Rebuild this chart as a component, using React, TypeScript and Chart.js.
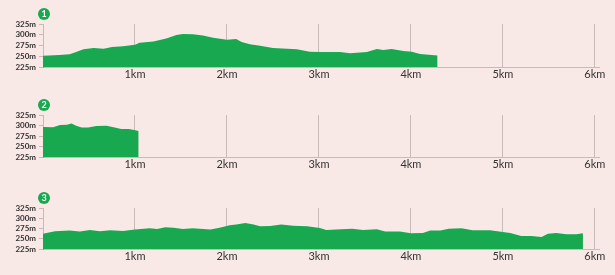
import React, { useEffect, useRef } from "react";
import { Chart, registerables } from "chart.js";

Chart.register(...registerables);

const BG = "#f9e9e6";
const GREEN = "#18a84f";

const dist1 = [0, 0.18, 0.29, 0.36, 0.44, 0.55, 0.66, 0.75, 0.87, 1.0, 1.05, 1.2, 1.34, 1.45, 1.52, 1.63, 1.74, 1.85, 2.0, 2.1, 2.16, 2.25, 2.36, 2.5, 2.76, 2.9, 3.01, 3.23, 3.34, 3.52, 3.63, 3.7, 3.79, 3.92, 4.01, 4.1, 4.29];
const elev1 = [251, 253, 254.5, 260, 266, 269, 267.5, 271.5, 273, 277, 281.5, 284.5, 291.5, 299.5, 301.5, 301, 298, 293, 288.5, 290, 283, 278, 274.5, 269, 266, 260.5, 260, 260, 257, 260, 267, 264.5, 267, 262, 260.5, 255, 252];

const dist2 = [0, 0.11, 0.185, 0.26, 0.31, 0.36, 0.42, 0.49, 0.58, 0.69, 0.78, 0.85, 0.93, 0.98, 1.04];
const elev2 = [296.5, 296, 301, 301.5, 305, 299.5, 295, 295, 299, 299.5, 295, 291.5, 291.5, 290, 287];

const dist3 = [0, 0.13, 0.29, 0.4, 0.51, 0.62, 0.73, 0.87, 1.0, 1.16, 1.24, 1.33, 1.42, 1.52, 1.63, 1.74, 1.82, 1.92, 2.03, 2.1, 2.2, 2.29, 2.36, 2.47, 2.59, 2.72, 2.87, 3.01, 3.08, 3.19, 3.36, 3.48, 3.63, 3.72, 3.88, 4.0, 4.13, 4.21, 4.32, 4.41, 4.55, 4.67, 4.86, 5.0, 5.08, 5.2, 5.31, 5.42, 5.49, 5.58, 5.69, 5.8, 5.87];
const elev3 = [262.5, 268, 270, 267.5, 271.5, 268, 270.5, 269, 272.5, 275.5, 274, 278, 277, 274, 275.5, 274, 272.5, 277, 283, 285, 288.5, 284.5, 280.5, 281, 285, 282, 280.5, 276, 271.5, 272.5, 274.5, 271.5, 273, 267.5, 267.5, 263.5, 264, 270, 270, 274.5, 275.5, 270.5, 270.5, 266.5, 264, 257, 257, 254.5, 262.5, 264, 261, 261, 263.5];

const yTickValues = [225, 250, 275, 300, 325];
const xTickValues = [1, 2, 3, 4, 5, 6];
const Y_MIN = 225;
const Y_MAX = 325;
const X_MAX = 6.045;

const LINE = "rgba(0,0,0,0.2)";

const badgePlugin = {
  id: "badge",
  afterDraw(chart: any, _args: any, opts: any) {
    const { ctx, chartArea } = chart;
    const x = chartArea.left + 1;
    const y = chartArea.top - 10;
    ctx.save();
    ctx.beginPath();
    ctx.arc(x, y, 6, 0, Math.PI * 2);
    ctx.fillStyle = GREEN;
    ctx.fill();
    ctx.fillStyle = "#fff";
    ctx.font = "bold 9px Lato";
    ctx.textAlign = "center";
    ctx.textBaseline = "middle";
    ctx.fillText(opts.label, x, y + 0.5);
    ctx.restore();
  },
};

function ElevChart(props: {
  dist: number[];
  elev: number[];
  label: string;
  top: number;
  height: number;
  areaTop: number;
  areaBottom: number;
}) {
  const ref = useRef<HTMLCanvasElement>(null);
  useEffect(() => {
    const { dist, elev, label, height, areaTop, areaBottom } = props;
    const chart = new Chart(ref.current!, {
      type: "line",
      data: {
        datasets: [
          {
            data: dist.map((d, i) => ({ x: d, y: elev[i] })),
            backgroundColor: GREEN,
            borderWidth: 0,
            pointRadius: 0,
            fill: "start",
            tension: 0,
          },
        ],
      },
      options: {
        animation: false,
        responsive: false,
        devicePixelRatio: 1,
        layout: { padding: { top: areaTop, right: 16, left: 0, bottom: 0 } },
        plugins: {
          legend: { display: false },
          tooltip: { enabled: false },
          badge: { label },
        } as any,
        scales: {
          x: {
            type: "linear",
            min: 0,
            max: X_MAX,
            z: 1,
            afterBuildTicks: (s: any) => {
              s.ticks = xTickValues.map((v) => ({ value: v }));
            },
            afterFit: (s: any) => {
              s.height = height - areaBottom;
            },
            ticks: {
              callback: (v: any) => v + "km",
              font: { family: "Lato", size: 11 },
              color: "#333",
              padding: 1,
              maxRotation: 0,
              autoSkip: false,
            },
            grid: { color: LINE, drawTicks: false, lineWidth: 1 },
            border: { color: LINE },
          },
          y: {
            min: Y_MIN,
            max: Y_MAX,
            afterBuildTicks: (s: any) => {
              s.ticks = yTickValues.map((v) => ({ value: v }));
            },
            afterFit: (s: any) => {
              s.width = 43;
            },
            ticks: {
              callback: (v: any) => v + "m",
              font: { family: "Lato", size: 8, weight: "bold" },
              color: "#333",
              padding: 3,
              autoSkip: false,
            },
            grid: { drawOnChartArea: false, tickLength: 4, color: LINE },
            border: { color: LINE },
          },
        },
      } as any,
      plugins: [badgePlugin as any],
    });
    return () => chart.destroy();
  }, []);
  return (
    <canvas
      ref={ref}
      width={615}
      height={props.height}
      style={{ position: "absolute", left: 0, top: props.top, width: 615, height: props.height }}
    />
  );
}

export default function App() {
  return (
    <div style={{ position: "absolute", left: 0, top: 0, width: 615, height: 275, background: BG, overflow: "hidden" }}>
      <ElevChart dist={dist1} elev={elev1} label="1" top={0} height={90} areaTop={24} areaBottom={67} />
      <ElevChart dist={dist2} elev={elev2} label="2" top={90} height={90} areaTop={25} areaBottom={67} />
      <ElevChart dist={dist3} elev={elev3} label="3" top={182} height={93} areaTop={26} areaBottom={67} />
    </div>
  );
}
